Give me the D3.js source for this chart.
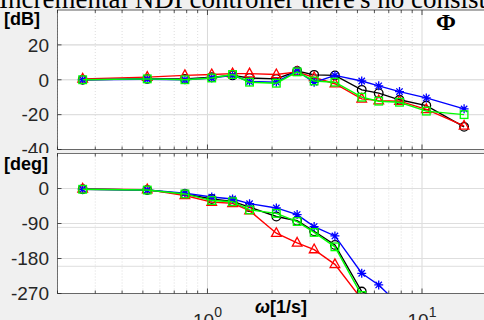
<!DOCTYPE html>
<html><head><meta charset="utf-8">
<script src="https://cdn.jsdelivr.net/npm/d3@7"></script>
<style>body{margin:0;background:#f0f0f0;overflow:hidden}svg{display:block}</style>
</head><body><svg id="c" width="484" height="320"></svg>
<script>
// ---- data ----
const freq = [0.262,0.524,0.785,1.047,1.309,1.571,2.094,2.618,3.142,3.927,5.236,6.283,7.854,10.472,15.708];
const magBlack = [0,0.5,0.5,1.5,2.5,1,0.5,5,2.8,2.5,-5.8,-7.7,-11.5,-14.8,-27];
const magRed   = [0.5,1.5,2.5,3,3.5,3.5,3,4.5,1.3,-2.3,-11,-12,-12.3,-17,-26.5];
const magBlue  = [0,0.3,0,1,2.5,-1,-1.4,5,-1.5,2.5,-0.7,-3.5,-6.8,-10.4,-16.7];
const magGreen = [0,0.5,0,1,3,-1.4,-2,4.5,-0.7,-1.4,-10,-12.3,-12.9,-18,-20];
const phBlack = [-2,-4,-14,-27,-33,-48,-72,-83,-110,-145,-265,-285,-300,-320,-360];
const phRed   = [-1,-3,-18,-35,-38,-57,-115,-140,-157,-195,-285,-300,-320,-350,-380];
const phBlue  = [-2,-4,-12,-22,-27,-39,-50,-67,-98,-122,-218,-248,-300,-330,-360];
const phGreen = [-2,-4,-14,-31,-34,-55,-64,-85,-113,-150,-275,-290,-310,-340,-370];
const magTicks = [20,0,-20,-40];
const phTicks = [0,-90,-180,-270];
const xTickExps = [0,1];
const titleText = "Incremental NDI controller there's no consistency";

// ---- layout ----
const svg = d3.select("#c");
const W = 484, H = 320;
const x = d3.scaleLog().domain([0.2,20]).range([57.5,486.6]);
const yMag = d3.scaleLinear().domain([-40,40]).range([149.5,10]);
const yPh = d3.scaleLinear().domain([-270,90]).range([293.5,153.5]);
const axisCol = "#262626", gridCol = "#dedede";

const series = [
  {mag: magBlack, ph: phBlack, color:"#000000", marker:"circle"},
  {mag: magRed,   ph: phRed,   color:"#ff0000", marker:"triangle"},
  {mag: magBlue,  ph: phBlue,  color:"#0000ff", marker:"star"},
  {mag: magGreen, ph: phGreen, color:"#00ff00", marker:"square"}
];

svg.append("rect").attr("width",W).attr("height",H).attr("fill","#f0f0f0");

// title (cut off at top)
svg.append("text").attr("x",-1).attr("y",7.5)
  .attr("font-family","'Liberation Serif','Times New Roman',serif").attr("font-size",27)
  .attr("fill","#000").text(titleText);

function panel(y, ticks, key, id, ylab, labY, after) {
  const x0 = x.range()[0], x1 = x.range()[1];
  const yr = y.range();
  const top = yr[1], bot = yr[0];
  const g = svg.append("g");
  g.append("rect").attr("x",x0).attr("y",top).attr("width",x1-x0).attr("height",bot-top).attr("fill","#fff");
  // grid
  const xt = x.ticks();
  xt.forEach(t => {
    const major = Math.abs(Math.log10(t) - Math.round(Math.log10(t))) < 1e-9;
    g.append("line").attr("x1",x(t)).attr("x2",x(t)).attr("y1",top).attr("y2",bot)
      .attr("stroke", major ? "#d9d9d9" : "#d6d6d6").attr("stroke-width", major?1:0.8)
      .attr("stroke-dasharray", major ? null : "1,2");
  });
  y.ticks(4).concat(ticks).forEach(t => {
    g.append("line").attr("x1",x0).attr("x2",x1).attr("y1",y(t)).attr("y2",y(t))
      .attr("stroke",gridCol).attr("stroke-width",1);
  });
  // clip
  svg.append("clipPath").attr("id",id).append("rect")
    .attr("x",x0).attr("y",top).attr("width",x1-x0).attr("height",bot-top);
  const sg = g.append("g").attr("clip-path",`url(#${id})`);
  const line = d3.line().x((d,i)=>x(freq[i])).y(d=>y(d));
  series.forEach(s => {
    const vals = s[key];
    sg.append("path").attr("d",line(vals)).attr("fill","none")
      .attr("stroke",s.color).attr("stroke-width",1.4);
    vals.forEach((v,i) => {
      const cx = x(freq[i]), cy = y(v);
      const m = sg.append("g").attr("transform",`translate(${cx},${cy})`)
        .attr("fill","none").attr("stroke",s.color).attr("stroke-width",1.3);
      if (s.marker==="circle") m.append("circle").attr("r",4.3);
      else if (s.marker==="triangle") m.append("path").attr("d","M0,-5.5L4.8,3.2L-4.8,3.2Z");
      else if (s.marker==="square") m.append("rect").attr("x",-3.8).attr("y",-3.8).attr("width",7.6).attr("height",7.6);
      else {
        const r=4.5, q=3.2;
        m.append("path").attr("d",`M${-r},0L${r},0M0,${-r}L0,${r}M${-q},${-q}L${q},${q}M${-q},${q}L${q},${-q}`);
      }
    });
  });
  // box
  g.append("rect").attr("x",x0).attr("y",top).attr("width",x1-x0).attr("height",bot-top)
    .attr("fill","none").attr("stroke",axisCol).attr("stroke-width",0.8).attr("stroke-opacity",0.8);
  // ticks
  xt.forEach(t => {
    const major = Math.abs(Math.log10(t) - Math.round(Math.log10(t))) < 1e-9;
    const L = major ? 5 : 3;
    g.append("line").attr("x1",x(t)).attr("x2",x(t)).attr("y1",bot).attr("y2",bot-L).attr("stroke",axisCol).attr("stroke-width",0.8);
    g.append("line").attr("x1",x(t)).attr("x2",x(t)).attr("y1",top).attr("y2",top+L).attr("stroke",axisCol).attr("stroke-width",0.8);
  });
  ticks.forEach(t => {
    g.append("line").attr("x1",x0).attr("x2",x0+4).attr("y1",y(t)).attr("y2",y(t)).attr("stroke",axisCol).attr("stroke-width",0.8);
  });
  if (after) after();
  ticks.forEach(t => {
    svg.append("text").attr("x",49).attr("y",y(t)).attr("dy","0.36em")
      .attr("text-anchor","end").attr("font-family","'Liberation Sans',Arial,sans-serif")
      .attr("font-size",19).attr("fill",axisCol).text(t);
  });
  svg.append("text").attr("x",4).attr("y",labY)
    .attr("font-family","'Liberation Sans',Arial,sans-serif").attr("font-weight","bold")
    .attr("font-size",18).attr("fill","#000").text(ylab);
}

panel(yMag, magTicks, "mag", "clipTop", "[dB]", 25);
// Phi label
svg.append("text").attr("x",446).attr("y",30).attr("text-anchor","middle")
  .attr("font-family","'Liberation Serif','Times New Roman',serif").attr("font-weight","bold")
  .attr("font-size",24).attr("fill","#000").text("Φ");
// lower panel background cuts the -40 label
svg.append("rect").attr("x",0).attr("y",153).attr("width",57).attr("height",H-153).attr("fill","#f0f0f0");
panel(yPh, phTicks, "ph", "clipBot", "[deg]", 170);

// x tick labels
xTickExps.forEach(e => {
  const t = svg.append("text").attr("x",x(Math.pow(10,e))).attr("y",327)
    .attr("text-anchor","middle").attr("font-family","'Liberation Sans',Arial,sans-serif")
    .attr("font-size",19).attr("fill",axisCol);
  t.append("tspan").text("10");
  t.append("tspan").attr("font-size",14).attr("dy",-10).text(e);
});
// x label
const xl = svg.append("text").attr("x",255).attr("y",313)
  .attr("font-family","'Liberation Sans',Arial,sans-serif").attr("font-size",18).attr("fill","#000");
xl.append("tspan").attr("font-style","italic").attr("font-weight","bold").text("ω");
xl.append("tspan").attr("font-weight","bold").text("[1/s]");
</script></body></html>
